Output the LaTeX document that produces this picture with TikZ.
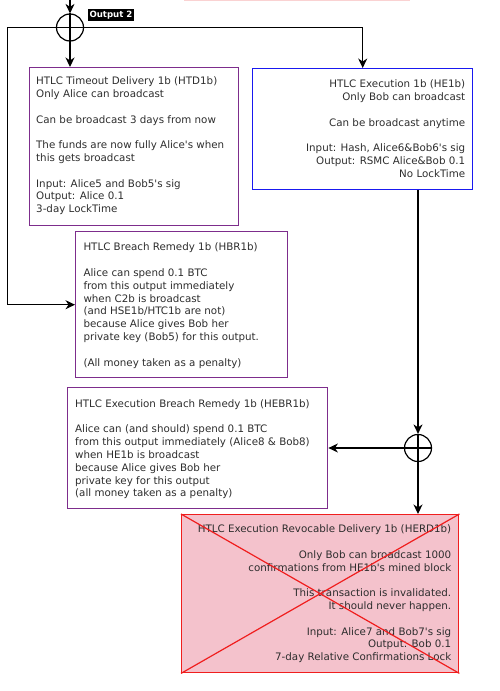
\documentclass[tikz,border=0pt]{standalone}
\usepackage{fontspec}
\newfontfamily\dejavu{DejaVu Sans}
\usetikzlibrary{arrows.meta}

\definecolor{txtgray}{RGB}{45,45,45}
\definecolor{purp}{RGB}{125,45,140}
\definecolor{bluebox}{RGB}{25,25,240}
\definecolor{redbox}{RGB}{240,30,30}
\definecolor{pinkfill}{RGB}{244,194,204}
\definecolor{pinktop}{RGB}{250,210,210}

\tikzset{
  box/.style={draw, line width=1.4pt, inner sep=0pt, anchor=north west},
  txt/.style={inner sep=0pt, text=txtgray, font=\dejavu\fontsize{10.3}{12.8}\selectfont},
  wire/.style={black, line width=1.2pt},
  arr/.style={wire, -{Stealth[length=9.5pt,width=9pt,inset=3pt]}},
  xorc/.style={circle, draw, line width=1.2pt, minimum size=27pt, inner sep=0pt}
}

\begin{document}
\begin{tikzpicture}[x=1pt,y=-1pt]
\useasboundingbox (0,0) rectangle (500,691);

% bottom edge of the box above
\draw[pinktop, line width=1.5pt] (184,0.7) -- (410,0.7);

% boxes
\node[box, draw=purp, minimum width=209pt, minimum height=158pt] (htd) at (29,67) {};
\node[box, draw=bluebox, minimum width=220pt, minimum height=121pt] (he) at (252,68) {};
\node[box, draw=purp, minimum width=212pt, minimum height=146pt] (hbr) at (75,231) {};
\node[box, draw=purp, minimum width=260pt, minimum height=121pt] (hebr) at (67,387) {};
\node[box, draw=redbox, fill=pinkfill, minimum width=277pt, minimum height=158pt] (herd) at (181,514) {};

% texts
\node[txt, anchor=north west, align=left] (htdtxt) at ([shift={(7,9.6)}]htd.north west) {%
HTLC Timeout Delivery 1b (HTD1b)\\
Only Alice can broadcast\\[12.8pt]
Can be broadcast 3 days from now\\[12.8pt]
The funds are now fully Alice's when\\
this gets broadcast\\[12.8pt]
Input: Alice5 and Bob5's sig\\
Output: Alice 0.1\\
3-day LockTime};

\node[txt, anchor=north east, align=right] (hetxt) at ([shift={(-8,11.9)}]he.north east) {%
HTLC Execution 1b (HE1b)\\
Only Bob can broadcast\\[12.8pt]
Can be broadcast anytime\\[12.8pt]
Input: Hash, Alice6\&Bob6's sig\\
Output: RSMC Alice\&Bob 0.1\\
No LockTime};

\node[txt, anchor=north west, align=left] (hbrtxt) at ([shift={(8.3,11.9)}]hbr.north west) {%
HTLC Breach Remedy 1b (HBR1b)\\[12.8pt]
Alice can spend 0.1 BTC\\
from this output immediately\\
when C2b is broadcast\\
(and HSE1b/HTC1b are not)\\
because Alice gives Bob her\\
private key (Bob5) for this output.\\[12.8pt]
(All money taken as a penalty)};

\node[txt, anchor=north west, align=left] (hebrtxt) at ([shift={(8,12.2)}]hebr.north west) {%
HTLC Execution Breach Remedy 1b (HEBR1b)\\[12.8pt]
Alice can (and should) spend 0.1 BTC\\
from this output immediately (Alice8 \& Bob8)\\
when HE1b is broadcast\\
because Alice gives Bob her\\
private key for this output\\
(all money taken as a penalty)};

\node[txt, anchor=north east, align=right] (herdtxt) at ([shift={(-8,10.6)}]herd.north east) {%
HTLC Execution Revocable Delivery 1b (HERD1b)\\[12.8pt]
Only Bob can broadcast 1000\\
confirmations from HE1b's mined block\\[12.8pt]
This transaction is invalidated.\\
It should never happen.\\[12.8pt]
Input: Alice7 and Bob7's sig\\
Output: Bob 0.1\\
7-day Relative Confirmations Lock};

% cross over the invalid box
\draw[redbox, line width=1.2pt] (herd.north west) -- (herd.south east)
  (herd.south west) -- (herd.north east);

% output 2 split
\coordinate (in2) at (70,0);
\coordinate (lft) at (7.5,27.5);
\node[xorc] (x2) at (70,27.5) {};
\draw[wire] (x2.north) -- (x2.south) (x2.west) -- (x2.east);
\node[fill=black, text=white, inner sep=1.7pt, font=\dejavu\bfseries\fontsize{8.6}{10}\selectfont] (out2) at (111,15) {Output 2};

\draw[arr] (in2) -- (x2.north);
\draw[arr] (x2.south) -- (x2.south |- htd.north);
\draw[arr] (x2.east) -| (he.north);
\draw[arr] (x2.west) -- (lft) |- (hbr.west);

% HE1b split
\node[xorc] (x1) at (418,448) {};
\draw[wire] (x1.north) -- (x1.south) (x1.west) -- (x1.east);
\draw[arr] (x1 |- he.south) -- (x1.north);
\draw[arr] (x1.west) -- (x1 -| hebr.east);
\draw[arr] (x1.south) -- (x1 |- herd.north);

\end{tikzpicture}
\end{document}
